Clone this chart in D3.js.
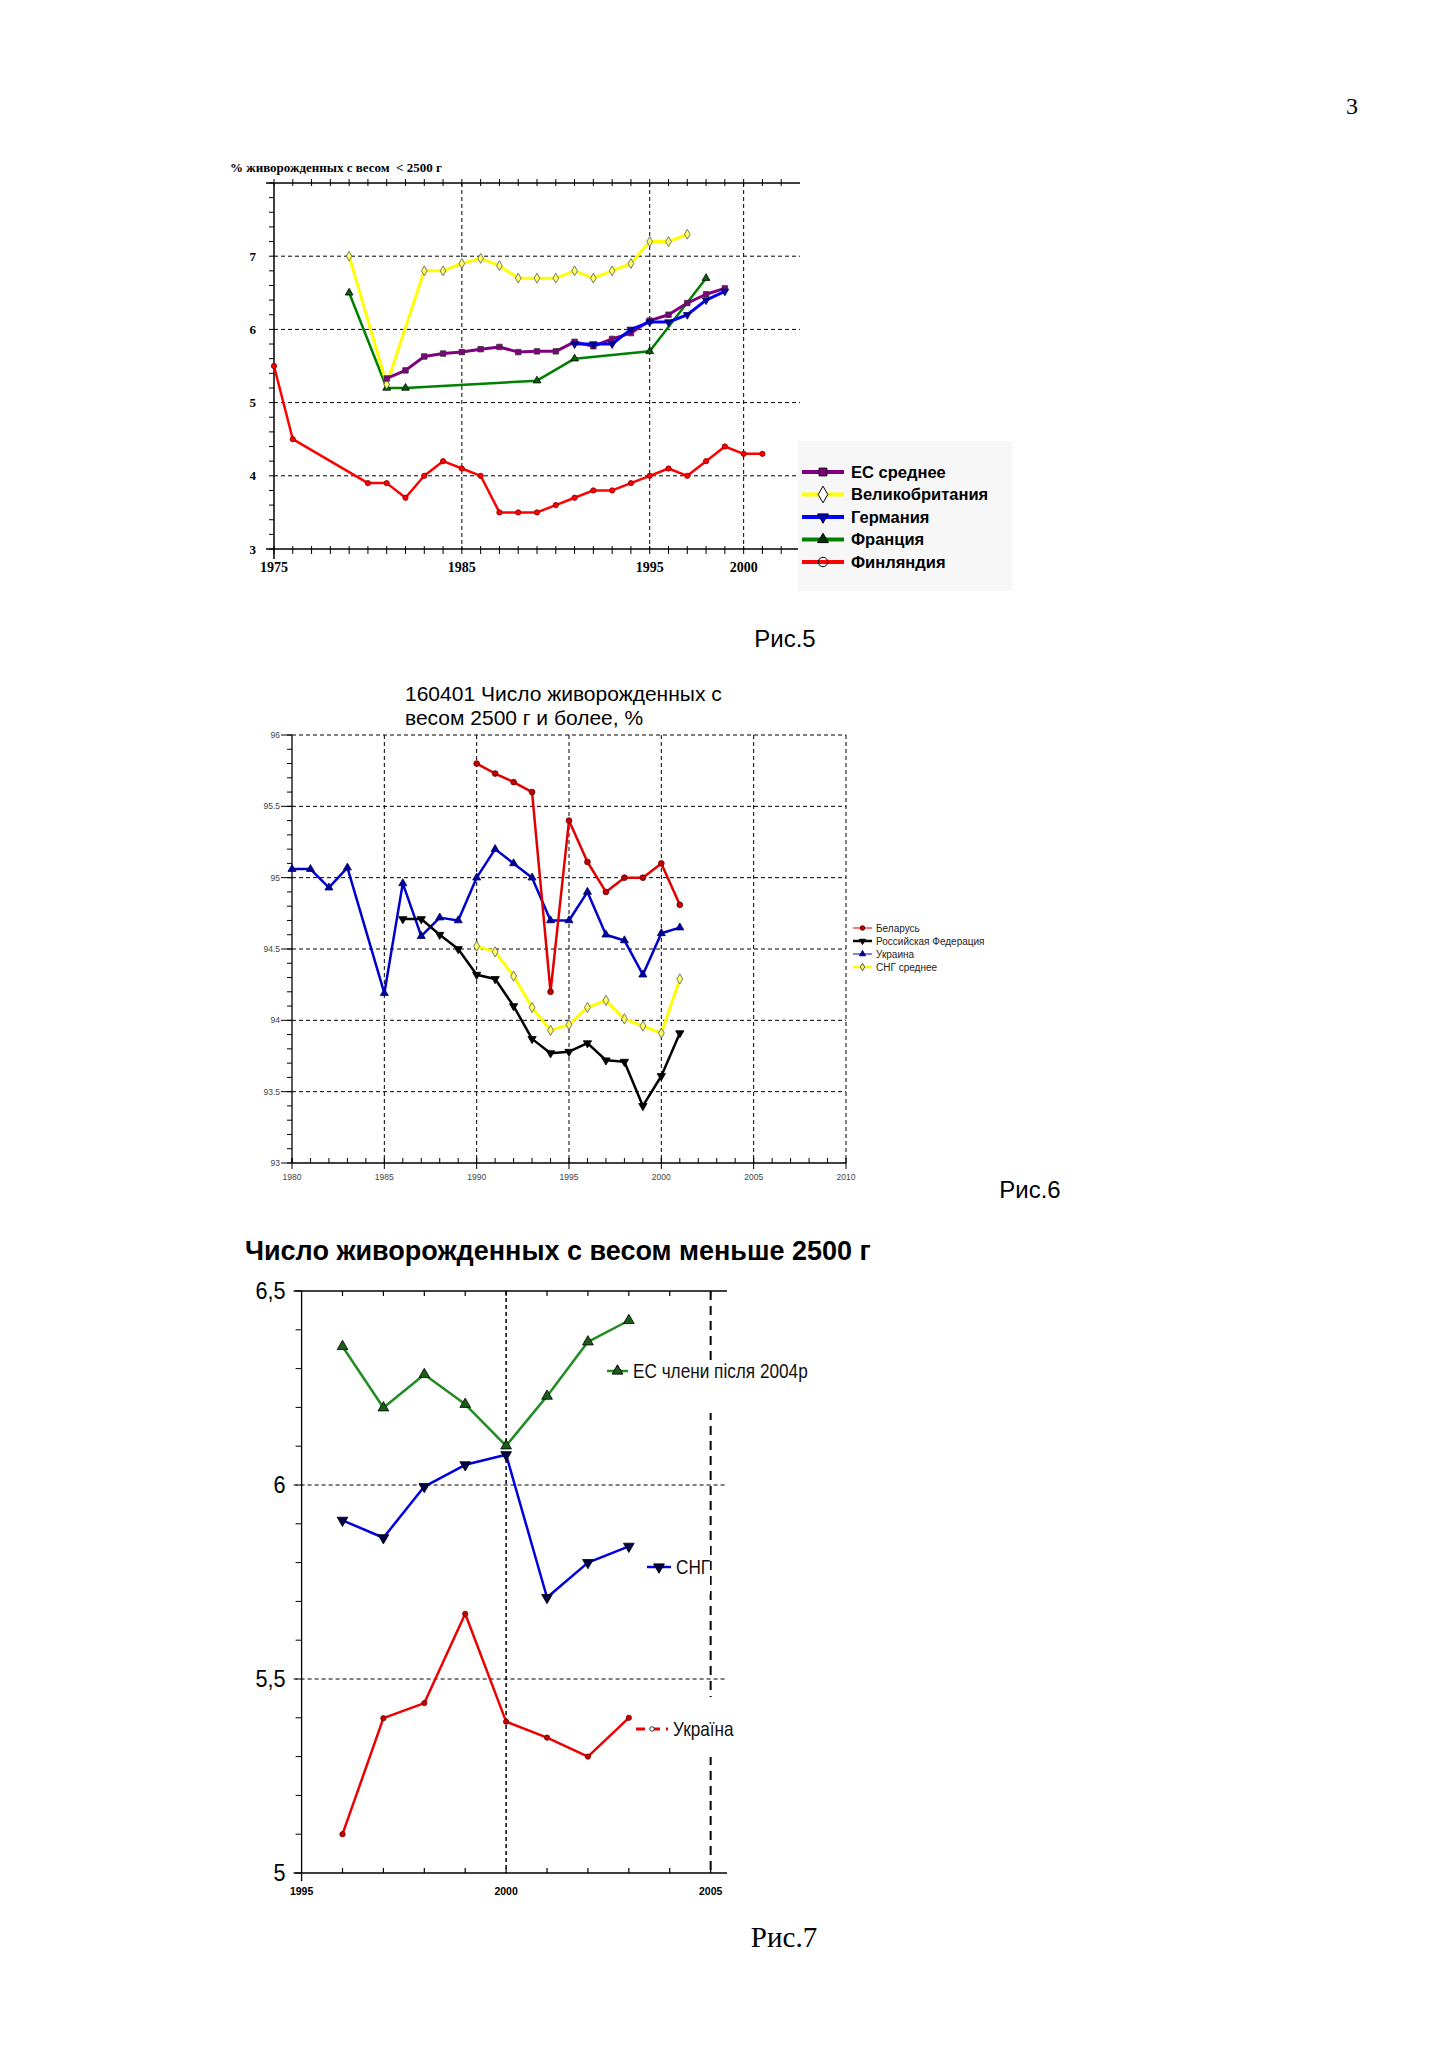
<!DOCTYPE html>
<html>
<head>
<meta charset="utf-8">
<script src="https://cdn.jsdelivr.net/npm/d3@7"></script>
<style>
  body { margin: 0; background: #fff; }
  svg { display: block; }
  text { white-space: pre; }
</style>
</head>
<body>
<script>
// ---------- Рис.5 data ----------
var fig5XTicks = [1975, 1985, 1995, 2000];
var fig5YTicks = [3, 4, 5, 6, 7];
var fig5Names = ["ЕС среднее", "Великобритания", "Германия", "Франция", "Финляндия"];

var euYears = [1981,1982,1983,1984,1985,1986,1987,1988,1989,1990,1991,1992,1993,1994,1995,1996,1997,1998,1999];
var euVals  = [5.33,5.44,5.63,5.67,5.69,5.73,5.76,5.69,5.7,5.7,5.83,5.77,5.87,5.95,6.12,6.2,6.36,6.48,6.56];
var ukYears = [1979,1981,1983,1984,1985,1986,1987,1988,1989,1990,1991,1992,1993,1994,1995,1996,1997];
var ukVals  = [7.0,5.25,6.8,6.8,6.9,6.97,6.87,6.7,6.7,6.7,6.8,6.7,6.8,6.9,7.2,7.2,7.3];
var deYears = [1991,1992,1993,1994,1995,1996,1997,1998,1999];
var deVals  = [5.8,5.8,5.8,6.0,6.1,6.1,6.2,6.4,6.52];
var frYears = [1979,1981,1982,1989,1991,1995,1998];
var frVals  = [6.5,5.2,5.2,5.3,5.6,5.7,6.7];
var fiYears = [1975,1976,1980,1981,1982,1983,1984,1985,1986,1987,1988,1989,1990,1991,1992,1993,1994,1995,1996,1997,1998,1999,2000,2001];
var fiVals  = [5.5,4.5,3.9,3.9,3.7,4.0,4.2,4.1,4.0,3.5,3.5,3.5,3.6,3.7,3.8,3.8,3.9,4.0,4.1,4.0,4.2,4.4,4.3,4.3];

// ---------- Рис.6 data ----------
var fig6XTicks = [1980, 1985, 1990, 1995, 2000, 2005, 2010];
var fig6YTicks = [93, 93.5, 94, 94.5, 95, 95.5, 96];
var fig6Names = ["Беларусь", "Российская Федерация", "Украина", "СНГ среднее"];

var byYears = [1990,1991,1992,1993,1994,1995,1996,1997,1998,1999,2000,2001];
var byVals  = [95.8,95.73,95.67,95.6,94.2,95.4,95.11,94.9,95.0,95.0,95.1,94.81];
var ruYears = [1986,1987,1988,1989,1990,1991,1992,1993,1994,1995,1996,1997,1998,1999,2000,2001];
var ruVals  = [94.71,94.71,94.6,94.5,94.32,94.29,94.1,93.87,93.77,93.78,93.84,93.72,93.71,93.4,93.61,93.91];
var uaYears = [1980,1981,1982,1983,1985,1986,1987,1988,1989,1990,1991,1992,1993,1994,1995,1996,1997,1998,1999,2000,2001];
var uaVals  = [95.06,95.06,94.93,95.07,94.19,94.96,94.59,94.72,94.7,95.0,95.2,95.1,95.0,94.7,94.7,94.9,94.6,94.56,94.32,94.61,94.65];
var cisYears = [1990,1991,1992,1993,1994,1995,1996,1997,1998,1999,2000,2001];
var cisVals  = [94.52,94.48,94.31,94.09,93.93,93.97,94.09,94.14,94.01,93.96,93.91,94.29];

// ---------- Рис.7 data ----------
var fig7XTicks = [1995, 2000, 2005];
var fig7YTicks = [5, 5.5, 6, 6.5];
var fig7Years = [1996,1997,1998,1999,2000,2001,2002,2003];
var newEuVals = [6.357,6.199,6.285,6.208,6.101,6.229,6.369,6.424];
var cis7Vals  = [5.909,5.864,5.996,6.052,6.078,5.71,5.80,5.842];
var ukr7Vals  = [5.1,5.399,5.438,5.668,5.39,5.349,5.3,5.4];
var fig7Names = ["ЕС члени після 2004р", "СНГ", "Україна"];

var W = 1455, H = 2059;
var svg = d3.select("body").append("svg")
  .attr("width", W).attr("height", H);
svg.append("rect").attr("width", W).attr("height", H).attr("fill", "#fff");

var SERIF = "'Liberation Serif', 'Times New Roman', serif";
var SANS = "'Liberation Sans', Arial, sans-serif";

// marker helper
function marker(type, size) {
  var t = {square: d3.symbolSquare, diamond: d3.symbolDiamond, tri: d3.symbolTriangle,
           down: d3.symbolTriangle, circle: d3.symbolCircle}[type];
  return d3.symbol().type(t).size(size)();
}

function drawSeries(g, x, y, years, vals, o) {
  var pts = years.map(function(d, i) { return [d, vals[i]]; });
  g.append("path")
    .datum(pts)
    .attr("fill", "none")
    .attr("stroke", o.color)
    .attr("stroke-width", o.width)
    .attr("stroke-linejoin", "round")
    .attr("d", d3.line().x(function(d){ return x(d[0]); }).y(function(d){ return y(d[1]); }));
  g.selectAll(null)
    .data(pts)
    .join("path")
    .attr("d", marker(o.marker, o.size))
    .attr("transform", function(d) {
      return "translate(" + x(d[0]) + "," + y(d[1]) + ")" + (o.marker == "down" ? " rotate(180)" : "");
    })
    .attr("fill", o.fill)
    .attr("stroke", o.stroke)
    .attr("stroke-width", 0.8);
}

function legendRow(g, x0, x1, yy, o, label, font) {
  g.append("line").attr("x1", x0).attr("x2", x1).attr("y1", yy).attr("y2", yy)
    .attr("stroke", o.color).attr("stroke-width", o.width).attr("stroke-dasharray", o.dash || null);
  g.append("path").attr("d", marker(o.marker, o.size))
    .attr("transform", "translate(" + ((x0 + x1) / 2) + "," + yy + ")" + (o.marker == "down" ? " rotate(180)" : ""))
    .attr("fill", o.fill).attr("stroke", o.stroke).attr("stroke-width", 1);
  g.append("text")
    .attr("transform", "translate(" + (x1 + font.gap) + "," + yy + ") scale(" + (font.sx || 1) + ",1)")
    .attr("dy", "0.35em")
    .attr("font-family", font.family).attr("font-size", font.size)
    .attr("font-weight", font.weight).attr("fill", font.color || "#000").text(label);
}

// page number
svg.append("text").attr("x", 1352).attr("y", 114).attr("text-anchor", "middle")
  .attr("font-family", SERIF).attr("font-size", 24).text("3");

/////////////////////////////////////////////// Рис.5
(function() {
  var g = svg.append("g");
  var x = d3.scaleLinear().domain([1975, 2003]).range([274, 800]);
  var y = d3.scaleLinear().domain([3, 8]).range([549, 183]);

  g.append("text").attr("x", 230).attr("y", 172)
    .attr("font-family", SERIF).attr("font-weight", "bold").attr("font-size", 13)
    .text("% живорожденных с весом  < 2500 г");

  // dashed grid
  g.selectAll(".hg").data(fig5YTicks.slice(1)).join("line")
    .attr("x1", x(1975)).attr("x2", x(2003)).attr("y1", y).attr("y2", y)
    .attr("stroke", "#000").attr("stroke-width", 1).attr("stroke-dasharray", "4,3");
  g.selectAll(".vg").data(fig5XTicks.slice(1)).join("line")
    .attr("x1", x).attr("x2", x).attr("y1", y(8)).attr("y2", y(3))
    .attr("stroke", "#000").attr("stroke-width", 1).attr("stroke-dasharray", "4,3");

  // axes
  g.append("line").attr("x1", x(1975) - 8).attr("x2", x(2003)).attr("y1", y(8)).attr("y2", y(8))
    .attr("stroke", "#000").attr("stroke-width", 1.5);
  g.append("line").attr("x1", x(1975) - 8).attr("x2", x(2003)).attr("y1", y(3)).attr("y2", y(3))
    .attr("stroke", "#000").attr("stroke-width", 1.5);
  g.append("line").attr("x1", x(1975)).attr("x2", x(1975)).attr("y1", y(8)).attr("y2", y(3) + 10)
    .attr("stroke", "#000").attr("stroke-width", 1.5);
  var yrs = d3.range(1975, 2003);
  g.selectAll(".tt").data(yrs).join("line")
    .attr("x1", x).attr("x2", x).attr("y1", y(8) - 4).attr("y2", y(8) + 3)
    .attr("stroke", "#000");
  g.selectAll(".bt").data(yrs).join("line")
    .attr("x1", x).attr("x2", x).attr("y1", y(3) - 3).attr("y2", y(3) + 5)
    .attr("stroke", "#000");
  g.selectAll(".yt").data(d3.range(3, 8.01, 0.2)).join("line")
    .attr("x1", x(1975) - 5).attr("x2", x(1975)).attr("y1", y).attr("y2", y)
    .attr("stroke", "#000");
  g.selectAll(".yl").data(fig5YTicks).join("text")
    .attr("x", x(1975) - 18).attr("y", y).attr("dy", "0.35em").attr("text-anchor", "end")
    .attr("font-family", SERIF).attr("font-weight", "bold").attr("font-size", 13)
    .text(function(d){ return d; });
  g.selectAll(".xl").data(fig5XTicks).join("text")
    .attr("x", x).attr("y", y(3) + 23).attr("text-anchor", "middle")
    .attr("font-family", SERIF).attr("font-weight", "bold").attr("font-size", 14)
    .text(function(d){ return d; });

  var st = [
    {color: "#800080", width: 3, marker: "square", size: 30, fill: "#800080", stroke: "#333"},
    {color: "#ffff00", width: 3, marker: "diamond", size: 28, fill: "#ffff66", stroke: "#555"},
    {color: "#0000ff", width: 3, marker: "down", size: 26, fill: "#000099", stroke: "#000066"},
    {color: "#008000", width: 2.5, marker: "tri", size: 26, fill: "#006400", stroke: "#000"},
    {color: "#ff0000", width: 2.5, marker: "circle", size: 22, fill: "#ff0000", stroke: "#800000"}
  ];
  drawSeries(g, x, y, frYears, frVals, st[3]);
  drawSeries(g, x, y, ukYears, ukVals, st[1]);
  drawSeries(g, x, y, euYears, euVals, st[0]);
  drawSeries(g, x, y, deYears, deVals, st[2]);
  drawSeries(g, x, y, fiYears, fiVals, st[4]);

  // legend
  var lg = g.append("g");
  lg.append("rect").attr("x", 798).attr("y", 441).attr("width", 214).attr("height", 150).attr("fill", "#f7f7f7");
  var legStyles = [
    {color: "#800080", width: 4, marker: "square", size: 60, fill: "#800080", stroke: "#000"},
    {color: "#ffff00", width: 4, marker: "diamond", size: 80, fill: "#fff", stroke: "#000"},
    {color: "#0000ff", width: 4, marker: "down", size: 50, fill: "#0000cc", stroke: "#000"},
    {color: "#008000", width: 4, marker: "tri", size: 50, fill: "#003300", stroke: "#000"},
    {color: "#ff0000", width: 4, marker: "circle", size: 70, fill: "none", stroke: "#000"}
  ];
  fig5Names.forEach(function(n, i) {
    legendRow(lg, 802, 844, 472 + i * 22.5, legStyles[i], n,
      {family: SANS, size: 16.5, weight: "bold", gap: 7});
  });

  svg.append("text").attr("x", 785).attr("y", 647).attr("text-anchor", "middle")
    .attr("font-family", SANS).attr("font-size", 24).text("Рис.5");
})();

/////////////////////////////////////////////// Рис.6
(function() {
  var g = svg.append("g");
  var x = d3.scaleLinear().domain([1980, 2010]).range([292, 846]);
  var y = d3.scaleLinear().domain([93, 96]).range([1163, 735]);

  g.append("text").attr("x", 405).attr("y", 701)
    .attr("font-family", SANS).attr("font-size", 21).text("160401 Число живорожденных с");
  g.append("text").attr("x", 405).attr("y", 725)
    .attr("font-family", SANS).attr("font-size", 21).text("весом 2500 г и более, %");

  g.selectAll(".hg").data(fig6YTicks.slice(1)).join("line")
    .attr("x1", x(1980)).attr("x2", x(2010)).attr("y1", y).attr("y2", y)
    .attr("stroke", "#000").attr("stroke-width", 1).attr("stroke-dasharray", "4,3");
  g.selectAll(".vg").data(fig6XTicks.slice(1)).join("line")
    .attr("x1", x).attr("x2", x).attr("y1", y(96)).attr("y2", y(93))
    .attr("stroke", "#000").attr("stroke-width", 1).attr("stroke-dasharray", "4,3");

  g.append("line").attr("x1", x(1980)).attr("x2", x(2010)).attr("y1", y(93)).attr("y2", y(93))
    .attr("stroke", "#000").attr("stroke-width", 1.3);
  g.append("line").attr("x1", x(1980)).attr("x2", x(1980)).attr("y1", y(96)).attr("y2", y(93))
    .attr("stroke", "#000").attr("stroke-width", 1.3);
  g.selectAll(".ym").data(d3.range(93, 96.01, 0.1)).join("line")
    .attr("x1", x(1980) - 5).attr("x2", x(1980)).attr("y1", y).attr("y2", y)
    .attr("stroke", "#000");
  g.selectAll(".yM").data(fig6YTicks).join("line")
    .attr("x1", x(1980) - 11).attr("x2", x(1980)).attr("y1", y).attr("y2", y)
    .attr("stroke", "#000");
  g.selectAll(".xm").data(d3.range(1980, 2011)).join("line")
    .attr("x1", x).attr("x2", x).attr("y1", y(93) - 5).attr("y2", y(93))
    .attr("stroke", "#000");
  g.selectAll(".xM").data(fig6XTicks).join("line")
    .attr("x1", x).attr("x2", x).attr("y1", y(93) - 5).attr("y2", y(93) + 6)
    .attr("stroke", "#000");
  g.selectAll(".yl").data(fig6YTicks).join("text")
    .attr("x", x(1980) - 12).attr("y", y).attr("dy", "0.35em").attr("text-anchor", "end")
    .attr("font-family", SANS).attr("font-size", 8.5).attr("fill", "#444")
    .text(function(d){ return d; });
  g.selectAll(".xl").data(fig6XTicks).join("text")
    .attr("x", x).attr("y", y(93) + 17).attr("text-anchor", "middle")
    .attr("font-family", SANS).attr("font-size", 8.5).attr("fill", "#444")
    .text(function(d){ return d; });

  var st = [
    {color: "#e00000", width: 2.5, marker: "circle", size: 26, fill: "#c00000", stroke: "#600"},
    {color: "#000000", width: 2.5, marker: "down", size: 30, fill: "#000", stroke: "#000"},
    {color: "#0000cc", width: 2.5, marker: "tri", size: 28, fill: "#000099", stroke: "#000066"},
    {color: "#ffff00", width: 3, marker: "diamond", size: 30, fill: "#ffff66", stroke: "#555"}
  ];
  drawSeries(g, x, y, uaYears, uaVals, st[2]);
  drawSeries(g, x, y, ruYears, ruVals, st[1]);
  drawSeries(g, x, y, cisYears, cisVals, st[3]);
  drawSeries(g, x, y, byYears, byVals, st[0]);

  var legW = [1, 2.5, 1, 2.5];
  fig6Names.forEach(function(n, i) {
    var s = Object.assign({}, st[i], {width: legW[i], size: 16});
    legendRow(g, 853, 872, 928 + i * 13, s, n,
      {family: SANS, size: 10, weight: "normal", gap: 4, color: "#222"});
  });

  svg.append("text").attr("x", 1030).attr("y", 1198).attr("text-anchor", "middle")
    .attr("font-family", SANS).attr("font-size", 24).text("Рис.6");
})();

/////////////////////////////////////////////// Рис.7
(function() {
  var g = svg.append("g");
  var x = d3.scaleLinear().domain([1995, 2005.4]).range([301.6, 727]);
  var y = d3.scaleLinear().domain([5, 6.5]).range([1873, 1291]);

  g.append("text").attr("x", 245).attr("y", 1260)
    .attr("font-family", SANS).attr("font-weight", "bold").attr("font-size", 27)
    .text("Число живорожденных с весом меньше 2500 г");

  g.selectAll(".hg").data([5.5, 6]).join("line")
    .attr("x1", x(1995) - 8).attr("x2", x(2005.4)).attr("y1", y).attr("y2", y)
    .attr("stroke", "#000").attr("stroke-width", 1).attr("stroke-dasharray", "4,3");
  g.append("line").attr("x1", x(2000)).attr("x2", x(2000)).attr("y1", y(6.5)).attr("y2", y(5))
    .attr("stroke", "#000").attr("stroke-width", 1.5).attr("stroke-dasharray", "4,3");
  g.append("line").attr("x1", x(2005)).attr("x2", x(2005)).attr("y1", y(6.5)).attr("y2", y(5))
    .attr("stroke", "#000").attr("stroke-width", 2).attr("stroke-dasharray", "9,6");

  // white label boxes that cut the 2005 grid line
  var boxes = [[600, 1361, 230, 52], [640, 1542, 70, 52], [630, 1697, 110, 60]];
  g.selectAll(".lbox").data(boxes).join("rect")
    .attr("x", function(d){ return d[0]; }).attr("y", function(d){ return d[1]; })
    .attr("width", function(d){ return d[2]; }).attr("height", function(d){ return d[3]; })
    .attr("fill", "#fff");

  g.append("line").attr("x1", x(1995) - 8).attr("x2", x(2005.4)).attr("y1", y(6.5)).attr("y2", y(6.5))
    .attr("stroke", "#000").attr("stroke-width", 1.3);
  g.append("line").attr("x1", x(1995) - 8).attr("x2", x(2005.4)).attr("y1", y(5)).attr("y2", y(5))
    .attr("stroke", "#000").attr("stroke-width", 1.3);
  g.append("line").attr("x1", x(1995)).attr("x2", x(1995)).attr("y1", y(6.5)).attr("y2", y(5) + 8)
    .attr("stroke", "#000").attr("stroke-width", 1.3);
  g.selectAll(".tt").data(d3.range(1996, 2006)).join("line")
    .attr("x1", x).attr("x2", x).attr("y1", y(6.5)).attr("y2", y(6.5) + 5)
    .attr("stroke", "#000").attr("stroke-width", 1.2);
  g.selectAll(".bt").data(d3.range(1996, 2006)).join("line")
    .attr("x1", x).attr("x2", x).attr("y1", y(5) - 5).attr("y2", y(5))
    .attr("stroke", "#000").attr("stroke-width", 1.2);
  g.selectAll(".ym").data(d3.range(5, 6.51, 0.1)).join("line")
    .attr("x1", x(1995) - 6).attr("x2", x(1995)).attr("y1", y).attr("y2", y)
    .attr("stroke", "#000");
  g.selectAll(".yl").data(fig7YTicks).join("text")
    .attr("transform", function(d) { return "translate(" + (x(1995) - 16) + "," + y(d) + ") scale(0.9,1)"; })
    .attr("dy", "0.35em").attr("text-anchor", "end")
    .attr("font-family", SANS).attr("font-size", 24)
    .text(function(d){ return String(d).replace(".", ","); });
  g.selectAll(".xl").data(fig7XTicks).join("text")
    .attr("x", x).attr("y", y(5) + 22).attr("text-anchor", "middle")
    .attr("font-family", SANS).attr("font-weight", "bold").attr("font-size", 10.5)
    .text(function(d){ return d; });

  var st = [
    {color: "#228b22", width: 2.5, marker: "tri", size: 50, fill: "#1a5e1a", stroke: "#000"},
    {color: "#0000dd", width: 2.5, marker: "down", size: 50, fill: "#000044", stroke: "#000"},
    {color: "#ee0000", width: 2.5, marker: "circle", size: 22, fill: "#cc0000", stroke: "#600"}
  ];
  drawSeries(g, x, y, fig7Years, ukr7Vals, st[2]);
  drawSeries(g, x, y, fig7Years, cis7Vals, st[1]);
  drawSeries(g, x, y, fig7Years, newEuVals, st[0]);

  var legPos = [[607, 628, 1371], [647, 671, 1567], [636, 668, 1729]];
  var legSt = [
    st[0],
    st[1],
    {color: "#ee0000", width: 3, marker: "circle", size: 16, fill: "#fff", stroke: "#333", dash: "9,6"}
  ];
  fig7Names.forEach(function(n, i) {
    legendRow(g, legPos[i][0], legPos[i][1], legPos[i][2], legSt[i], n,
      {family: SANS, size: 20, weight: "normal", gap: 5, color: "#111", sx: 0.86});
  });

  svg.append("text").attr("x", 784).attr("y", 1947).attr("text-anchor", "middle")
    .attr("font-family", SERIF).attr("font-size", 29).text("Рис.7");
})();
</script>
</body>
</html>
